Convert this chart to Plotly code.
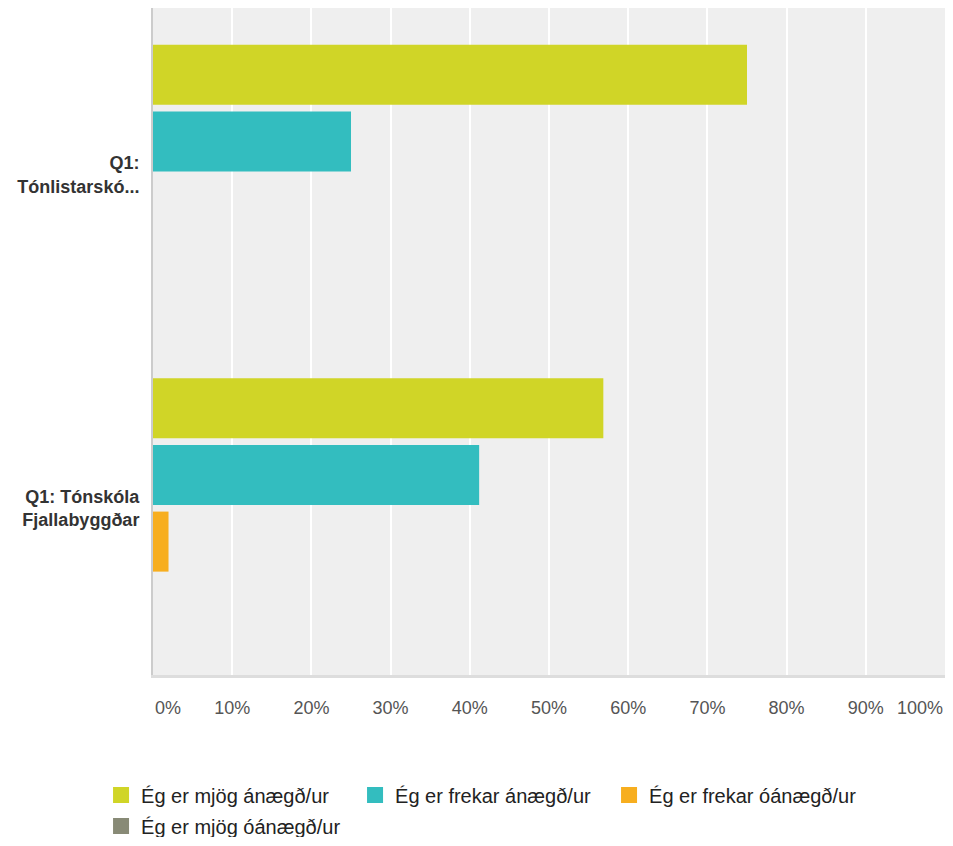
import plotly.graph_objects as go

categories = ["Q1:<br>Tónlistarskó...", "Q1: Tónskóla<br>Fjallabyggðar"]
series_names = ["Ég er mjög ánægð/ur", "Ég er frekar ánægð/ur",
                "Ég er frekar óánægð/ur", "Ég er mjög óánægð/ur"]
very_satisfied = [75.0, 56.86]
fairly_satisfied = [25.0, 41.18]
fairly_dissatisfied = [0.0, 1.96]
very_dissatisfied = [0.0, 0.0]
tick_values = [10, 20, 30, 40, 50, 60, 70, 80, 90]
tick_labels = ["10%", "20%", "30%", "40%", "50%", "60%", "70%", "80%", "90%"]
first_tick_label = "0%"
last_tick_label = "100%"

colors = ["#d0d527", "#33bdbf", "#f7ae1f", "#888a76"]
values = [very_satisfied, fairly_satisfied, fairly_dissatisfied, very_dissatisfied]
legend_ids = ["legend", "legend", "legend", "legend2"]

fig = go.Figure()
for name, vals, col in zip(series_names, values, colors):
    fig.add_trace(go.Bar(
        x=vals, y=categories, orientation="h", name=name,
        marker=dict(color=col, line=dict(width=0)),
        showlegend=False, hoverinfo="x+name",
    ))
for name, col, lg in zip(series_names, colors, legend_ids):
    fig.add_trace(go.Scatter(
        x=[None], y=[None], mode="markers", name=name,
        marker=dict(symbol="square", size=20, color=col),
        showlegend=True, legend=lg,
    ))

legend_common = dict(
    orientation="h",
    xref="container", xanchor="left",
    yref="container", yanchor="middle",
    entrywidth=209, entrywidthmode="pixels",
    font=dict(size=20, color="#222222"),
    itemsizing="trace",
    bgcolor="rgba(0,0,0,0)",
)

edge_label_font = dict(size=18, color="#555555")

fig.update_layout(
    width=937, height=829,
    margin=dict(l=145, r=0, t=0, b=162, autoexpand=False),
    paper_bgcolor="white",
    plot_bgcolor="#efefef",
    barmode="group",
    bargap=0.2,
    bargroupgap=0.1,
    font=dict(family="Liberation Sans, Arial, sans-serif", color="#333333"),
    legend=dict(x=0.0993, y=0.0507, **legend_common),
    legend2=dict(x=0.0993, y=0.0133, **legend_common),
    annotations=[
        dict(text=first_tick_label, xref="paper", yref="paper",
             x=0, y=0, xanchor="left", yanchor="middle", yshift=-33,
             showarrow=False, font=edge_label_font),
        dict(text=last_tick_label, xref="paper", yref="paper",
             x=1, y=0, xanchor="right", yanchor="middle", yshift=-33,
             showarrow=False, font=edge_label_font),
    ],
)
fig.update_xaxes(
    range=[0, 100],
    tickvals=tick_values, ticktext=tick_labels,
    tickfont=dict(size=18, color="#555555"),
    showgrid=True, gridcolor="white", gridwidth=2,
    zeroline=False,
    showline=True, linecolor="#dddddd", linewidth=3,
    ticks="outside", ticklen=14, tickcolor="rgba(0,0,0,0)",
    automargin=False,
    fixedrange=True,
)
fig.update_yaxes(
    autorange="reversed",
    tickfont=dict(size=18, color="#333333", weight="bold"),
    showline=True, linecolor="#cccccc", linewidth=2,
    ticks="outside", ticklen=8, tickcolor="rgba(0,0,0,0)",
    automargin=False,
    fixedrange=True,
)

fig.write_html("out.html")
